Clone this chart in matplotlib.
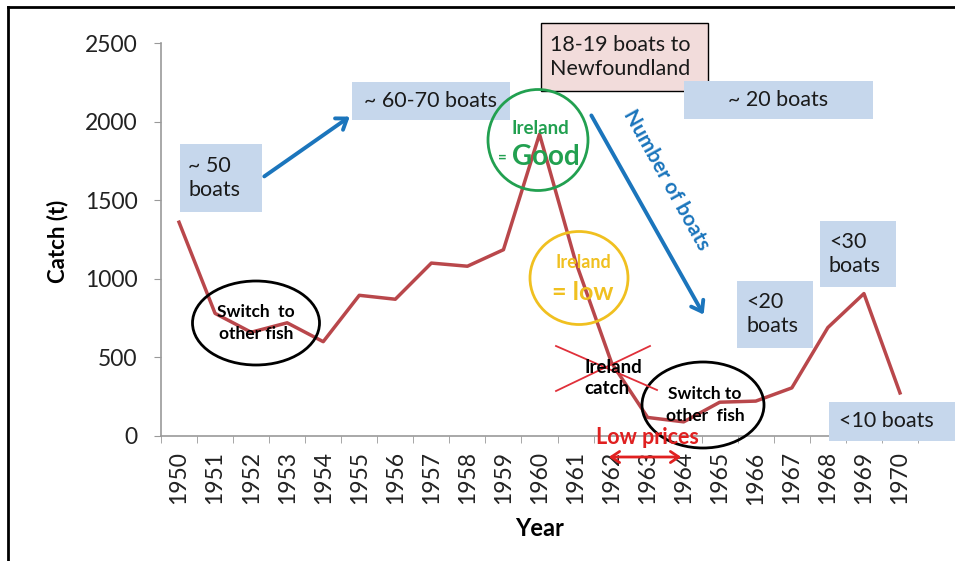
import matplotlib.pyplot as plt
from matplotlib.patches import Ellipse, Rectangle, FancyArrowPatch
from matplotlib.lines import Line2D

# catch per year (t)
years = list(range(1950, 1971))
catch = [1360, 780, 660, 720, 600, 895, 870, 1100, 1080, 1185, 1920,
         1110, 465, 118, 90, 215, 222, 306, 690, 906, 274]
year_labels = [str(y) for y in years]
y_ticks = [0, 500, 1000, 1500, 2000, 2500]

W, H = 955, 561
plt.rcParams['font.family'] = ['Lato', 'DejaVu Sans']

fig = plt.figure(figsize=(W / 100, H / 100), dpi=100)
ax = fig.add_axes([161 / W, 1 - 436 / H, (918 - 161) / W, (436 - 43) / H])


def px(x, y):
    # pixel position in the picture -> figure fraction
    return x / W, 1 - y / H


tf = fig.transFigure

ax.plot(range(len(years)), catch, color='#b9474b', lw=2.5, zorder=3)
ax.set_xlim(-0.5, len(years) - 0.5)
ax.set_ylim(0, 2500)
ax.set_yticks(y_ticks)
ax.set_yticklabels([str(v) for v in y_ticks], fontsize=16.5, color='#222222')
ax.set_xticks(range(len(years)))
ax.set_xticklabels(year_labels, rotation=90, fontsize=16.5, color='#222222')
ax.set_xticks([i - 0.5 for i in range(len(years) + 1)], minor=True)
ax.tick_params(axis='x', which='major', length=0, pad=11)
ax.tick_params(axis='x', which='minor', length=5, color='#999999')
ax.tick_params(axis='y', length=5, color='#999999', pad=12)
for s in ['top', 'right']:
    ax.spines[s].set_visible(False)
for s in ['left', 'bottom']:
    ax.spines[s].set_color('#999999')
    ax.spines[s].set_linewidth(1.2)

fig.text(*px(58, 241), 'Catch (t)', rotation=90, fontsize=16, fontweight='bold',
         ha='center', va='center')
fig.text(*px(540, 528), 'Year', fontsize=17, fontweight='bold', ha='center', va='center')

# outer frame (left and top edges visible)
fig.add_artist(Line2D([8 / W, 8 / W], [0, 1 - 7 / H], transform=tf, color='black', lw=2))
fig.add_artist(Line2D([8 / W, 1], [1 - 7 / H, 1 - 7 / H], transform=tf, color='black', lw=2))


def box(x0, y0, x1, y1, text, tx, ty, ha='left', fc='#c6d7ec', ec='none', fs=15.5):
    fig.add_artist(Rectangle(px(x0, y1), (x1 - x0) / W, (y1 - y0) / H, transform=tf,
                             facecolor=fc, edgecolor=ec, lw=1, zorder=4))
    fig.text(*px(tx, ty), text, fontsize=fs, ha=ha, va='center', color='#1a1a1a',
             linespacing=1.3, zorder=5)


box(180, 144, 262, 212, '~ 50\nboats', 188, 178)
box(352, 82, 510, 120, '~ 60-70 boats', 430, 101, ha='center')
box(541, 23, 708, 91, '18-19 boats to\nNewfoundland', 550, 57, fc='#f2dcdb', ec='black')
box(684, 81, 873, 119, '~ 20 boats', 778, 100, ha='center')
box(820, 221, 896, 287, '<30\nboats', 829, 254)
box(737, 281, 813, 348, '<20\nboats', 746, 314)
box(829, 402, 955, 441, '<10 boats', 886, 421, ha='center')

blue = '#1b75bc'
for start, end in [((262, 178), (352, 115)), ((590, 113), (705, 317))]:
    fig.add_artist(FancyArrowPatch(px(*start), px(*end), transform=tf,
                                   arrowstyle='->,head_length=7,head_width=5',
                                   color=blue, lw=2.8, zorder=4))
fig.text(*px(666, 180), 'Number of boats', rotation=-61, fontsize=15, fontweight='bold',
         color=blue, ha='center', va='center', rotation_mode='anchor')

# circles / ellipses
green = '#22a050'
gold = '#f0c020'
fig.add_artist(Ellipse(px(538, 140), 100 / W, 101 / H, transform=tf, fill=False,
                       edgecolor=green, lw=2, zorder=4))
fig.text(*px(540, 128), 'Ireland', fontsize=13.5, fontweight='bold', color=green,
         ha='center', va='center', zorder=5)
fig.text(*px(502, 158), '=', fontsize=11, fontweight='bold', color=green,
         ha='center', va='center', zorder=5)
fig.text(*px(546, 157), 'Good', fontsize=20, fontweight='bold', color=green,
         ha='center', va='center', zorder=5)

fig.add_artist(Ellipse(px(579, 278), 98 / W, 93 / H, transform=tf, fill=False,
                       edgecolor=gold, lw=2, zorder=4))
fig.text(*px(583, 263), 'Ireland', fontsize=13, fontweight='bold', color=gold,
         ha='center', va='center', zorder=5)
fig.text(*px(583, 292), '= low', fontsize=18, fontweight='bold', color=gold,
         ha='center', va='center', zorder=5)

fig.add_artist(Ellipse(px(256, 323), 127 / W, 84 / H, transform=tf, fill=False,
                       edgecolor='black', lw=2, zorder=4))
fig.text(*px(256, 323), 'Switch  to\nother fish', fontsize=12.5, fontweight='bold',
         ha='center', va='center', linespacing=1.4, zorder=5)

fig.add_artist(Ellipse(px(703, 405), 122 / W, 86 / H, transform=tf, fill=False,
                       edgecolor='black', lw=2, zorder=4))
fig.text(*px(705, 405), 'Switch to\nother  fish', fontsize=12.5, fontweight='bold',
         ha='center', va='center', linespacing=1.4, zorder=5)

# crossed-out Ireland catch
red = '#e0303a'
fig.add_artist(Line2D([556 / W, 657 / W], [1 - 346 / H, 1 - 390 / H], transform=tf,
                      color=red, lw=1.3, zorder=4))
fig.add_artist(Line2D([556 / W, 650 / W], [1 - 391 / H, 1 - 346 / H], transform=tf,
                      color=red, lw=1.3, zorder=4))
fig.text(*px(584, 378), 'Ireland\ncatch', fontsize=13.5, fontweight='bold', ha='left',
         va='center', linespacing=1.3, zorder=5)

fig.text(*px(647, 437), 'Low prices', fontsize=15.5, fontweight='bold', color='#e02020',
         ha='center', va='center', zorder=6)
fig.add_artist(FancyArrowPatch(px(606, 457), px(684, 457), transform=tf,
                               arrowstyle='<->,head_length=6,head_width=4',
                               color='#e02020', lw=2, zorder=6))

fig.savefig('out.png', dpi=100)
